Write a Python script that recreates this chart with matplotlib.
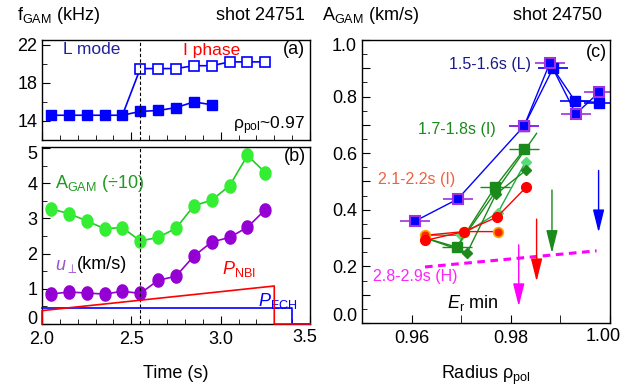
import numpy as np
import matplotlib
matplotlib.use("Agg")
import matplotlib.pyplot as plt
import matplotlib.transforms as mtransforms
from matplotlib.path import Path
from matplotlib.ticker import MultipleLocator, FuncFormatter

plt.rcParams['font.family'] = ['Liberation Sans', 'DejaVu Sans']
plt.rcParams['mathtext.fontset'] = 'custom'
plt.rcParams['mathtext.rm'] = 'Liberation Sans'
plt.rcParams['mathtext.it'] = 'Liberation Sans:italic'
plt.rcParams['mathtext.bf'] = 'Liberation Sans:bold'
plt.rcParams['axes.linewidth'] = 1.0

# (a) GAM frequency, shot 24751
t_low = [2.05, 2.15, 2.25, 2.35, 2.45, 2.55, 2.65, 2.75, 2.85, 2.95]
f_low = [14.6, 14.6, 14.6, 14.6, 14.6, 15.0, 15.1, 15.4, 16.0, 15.7]
t_high = [2.45, 2.55, 2.65, 2.75, 2.85, 2.95, 3.05, 3.15, 3.25]
f_high = [14.6, 19.5, 19.5, 19.5, 19.8, 19.8, 20.2, 20.2, 20.2]
t_lh = 2.55

# (b) GAM amplitude, perpendicular velocity and heating power
t_b = [2.05, 2.15, 2.25, 2.35, 2.45, 2.55, 2.65, 2.75, 2.85, 2.95, 3.05, 3.15, 3.25]
a_gam = [3.27, 3.14, 2.93, 2.71, 2.74, 2.36, 2.46, 2.72, 3.36, 3.52, 3.93, 4.79, 4.30]
u_perp = [0.85, 0.91, 0.88, 0.85, 0.93, 0.87, 1.24, 1.36, 1.93, 2.33, 2.46, 2.75, 3.25]
t_nbi = [2.0, 2.0, 3.3, 3.3, 3.5]
p_nbi = [0.0, 0.38, 1.08, 0.0, 0.0]
t_ech = [2.0, 3.4, 3.4, 3.5]
p_ech = [0.46, 0.46, 0.0, 0.0]

# (c) GAM amplitude profiles, shot 24750
L1_r = [0.9607, 0.9693, 0.9827, 0.9879, 0.9931, 0.9978]
L1_a = [0.36, 0.438, 0.697, 0.92, 0.739, 0.815]
L2_r = [0.9827, 0.9885, 0.9929, 0.9977]
L2_a = [0.697, 0.90, 0.786, 0.779]
I1_sq_r = [0.9628, 0.9691, 0.9768, 0.9827]
I1_sq_a = [0.30, 0.268, 0.480, 0.614]
I1_dm_r = [0.9628, 0.9712, 0.9770, 0.9830]
I1_dm_a = [0.30, 0.249, 0.455, 0.539]
I1_lt_r = [0.9628, 0.9700, 0.9774, 0.9830]
I1_lt_a = [0.31, 0.31, 0.39, 0.570]
I1_ln_r = [0.9691, 0.9852]
I1_ln_a = [0.268, 0.67]
I2_r = [0.9628, 0.9706, 0.9772, 0.9831]
I2_a = [0.292, 0.323, 0.374, 0.48]
I2b_r = [0.9628, 0.9706, 0.9774]
I2b_a = [0.31, 0.323, 0.323]
H_r = [0.9627, 0.9973]
H_a = [0.198, 0.255]
rerr = 0.003

# E_r minimum positions (arrows)
er_r = [0.9816, 0.9852, 0.9883, 0.9977]
er_top = [0.276, 0.367, 0.47, 0.539]
er_tip = [0.059, 0.147, 0.247, 0.32]
er_colors = ['#ff00ff', '#ff0000', '#1a8a1a', '#0000ff']

W, H = 642, 391
fig = plt.figure(figsize=(W / 100, H / 100), dpi=100)
fs = 13

# slightly tall oval marker like the original circles
_ang = np.linspace(0, 2 * np.pi, 41)
oval = Path(np.column_stack([0.83 * np.cos(_ang), np.sin(_ang)]), closed=True)


def box(l, t, r, b):
    return [l / W, 1 - b / H, (r - l) / W, (b - t) / H]


def hide(*vals, fmt='{:.1f}'):
    # formatter that leaves the edge labels out (drawn by hand, shifted inward)
    return FuncFormatter(lambda v, p: '' if any(abs(v - h) < 1e-6 for h in vals) else fmt.format(v))


def ylab(ax, val, txt, dy):
    tr = mtransforms.blended_transform_factory(ax.transAxes, ax.transData)
    tr = tr + mtransforms.ScaledTranslation(-5 / 100, dy / 100, fig.dpi_scale_trans)
    ax.text(0, val, txt, transform=tr, ha='right', va='center', fontsize=fs)


def xlab(ax, val, txt, dx):
    tr = mtransforms.blended_transform_factory(ax.transData, ax.transAxes)
    tr = tr + mtransforms.ScaledTranslation(dx / 100, -5 / 100, fig.dpi_scale_trans)
    ax.text(val, 0, txt, transform=tr, ha='center', va='top', fontsize=fs)


axa = fig.add_axes(box(42, 40, 310, 140))
axb = fig.add_axes(box(42, 147, 310, 324))
axc = fig.add_axes(box(362, 40, 610, 323))

for ax in (axa, axb, axc):
    ax.tick_params(which='both', direction='in', labelsize=fs, top=False, right=False)
    ax.tick_params(which='major', length=6)
    ax.tick_params(which='minor', length=3.5)
    ax.tick_params(axis='x', pad=5)

# ---- panel (a)
blue = '#0000ff'
axa.plot(t_high, f_high, '-s', color=blue, mfc='white', mec=blue, ms=6.5, mew=1.2,
         lw=1.2, markevery=slice(1, None))
axa.plot(t_low, f_low, '-s', color=blue, ms=7, lw=1.2)
axa.axvline(t_lh, color='k', ls=(0, (3, 2)), lw=0.8)
axa.set_xlim(2.0, 3.5)
axa.set_ylim(12, 22.5)
axa.yaxis.set_minor_locator(MultipleLocator(2))
axa.set_yticks([14, 18, 22])
axa.xaxis.set_major_locator(MultipleLocator(0.5))
axa.xaxis.set_minor_locator(MultipleLocator(0.1))
axa.tick_params(labelbottom=False)
axa.text(2.28, 21.45, 'L mode', color='#1f1fa0', fontsize=12.5, ha='center', va='center')
axa.text(2.95, 21.45, 'I phase', color='#ff0000', fontsize=12.5, ha='center', va='center')
axa.text(3.47, 21.45, '(a)', fontsize=13, ha='right', va='center')
axa.text(3.47, 13.5, r'ρ$_{\rm pol}$~0.97', fontsize=12.5, ha='right', va='center')

fig.text(17 / W, 1 - 16 / H, r'f$_{\rm GAM}$ (kHz)', fontsize=fs, ha='left', va='center')
fig.text(305 / W, 1 - 16 / H, 'shot 24751', fontsize=fs, ha='right', va='center')

# ---- panel (b)
axb.plot(t_nbi, p_nbi, color='#ff0000', lw=1.2, clip_on=False, zorder=4)
axb.plot(t_ech, p_ech, color=blue, lw=1.2, clip_on=False, zorder=3)
axb.plot(t_b, a_gam, '-', marker=oval, color='#22cc22', mfc='#33ee33', mec='#33ee33',
         ms=9.5, lw=1.2)
axb.plot(t_b, u_perp, '-', marker=oval, color='#9400d3', mfc='#9400d3', mec='#9400d3',
         ms=9.5, lw=1.2)
axb.axvline(t_lh, color='k', ls=(0, (3, 2)), lw=0.8)
axb.set_xlim(2.0, 3.5)
axb.set_ylim(0, 5.03)
axb.yaxis.set_major_locator(MultipleLocator(1))
axb.yaxis.set_minor_locator(MultipleLocator(0.5))
axb.yaxis.set_major_formatter(hide(0, 5, fmt='{:.0f}'))
ylab(axb, 0, '0', 4)
ylab(axb, 5, '5', -6)
axb.xaxis.set_major_locator(MultipleLocator(0.5))
axb.xaxis.set_minor_locator(MultipleLocator(0.1))
axb.xaxis.set_major_formatter(hide(3.5))
xlab(axb, 3.5, '3.5', -5)
axb.set_xlabel('Time (s)', fontsize=fs, labelpad=12)
axb.text(2.07, 4.0, r'A$_{\rm GAM}$ (÷10)', color='#229922', fontsize=13, ha='left', va='center')
ut = axb.text(2.07, 1.62, r'$u_{\perp}$', color='#9955cc', fontsize=13, ha='left', va='center')
axb.annotate('(km/s)', xy=(1, 0.62), xycoords=ut, fontsize=13, ha='left', va='center')
axb.text(3.10, 1.55, r'$P_{\rm NBI}$', color='#ff0000', fontsize=13, ha='center', va='center')
axb.text(3.32, 0.64, r'$P_{\rm ECH}$', color=blue, fontsize=13, ha='center', va='center')
axb.text(3.48, 4.75, '(b)', fontsize=13, ha='right', va='center')

# ---- panel (c)
purple = '#a030e0'
dgreen = '#1a8a1a'
axc.plot(I1_ln_r, I1_ln_a, '-', color=dgreen, lw=1.0)
axc.plot(I1_lt_r, I1_lt_a, '-D', color='#22aa44', mfc='#55dd77', mec='#55dd77', ms=5, lw=1.0,
         markevery=slice(1, None))
axc.plot(I1_dm_r, I1_dm_a, '-D', color=dgreen, mfc=dgreen, mec=dgreen, ms=5, lw=1.0,
         markevery=slice(1, None))
axc.errorbar(I1_sq_r[1:], I1_sq_a[1:], xerr=rerr, fmt='none', ecolor=dgreen,
             elinewidth=1.0, capsize=0)
axc.plot(I1_sq_r, I1_sq_a, '-s', color=dgreen, ms=7, lw=1.0, markevery=slice(1, None))
axc.plot(I2b_r, I2b_a, '-o', color='#ff0000', mfc='#ff2200', mec='#ffa500', ms=7, mew=1.2, lw=1.0)
axc.plot(I2_r, I2_a, '-o', color='#ff0000', mfc='#ff0000', mec='#ff0000', ms=7, lw=1.0)
axc.errorbar(L2_r, L2_a, xerr=rerr, fmt='-s', color=blue, mfc=blue, mec=blue, ms=7,
             lw=1.0, elinewidth=1.2, capsize=0)
axc.errorbar(L1_r, L1_a, xerr=rerr, fmt='-s', color=blue, mfc=blue, mec=purple, mew=1.5,
             ms=7, lw=1.0, ecolor=purple, elinewidth=1.2, capsize=0)
axc.plot(H_r, H_a, color='#ff00ff', lw=2.2, ls=(0, (2.5, 1.8)))
for r, y0, y1, c in zip(er_r, er_top, er_tip, er_colors):
    axc.annotate('', xy=(r, y1), xytext=(r, y0),
                 arrowprops=dict(arrowstyle='-|>,head_length=1.4,head_width=0.35',
                                 color=c, lw=1.0, mutation_scale=10, shrinkA=0, shrinkB=0))
axc.set_xlim(0.95, 1.00)
axc.set_ylim(0, 1.0)
axc.xaxis.set_major_locator(MultipleLocator(0.02))
axc.xaxis.set_minor_locator(MultipleLocator(0.01))
axc.xaxis.set_major_formatter(hide(1.0, fmt='{:.2f}'))
xlab(axc, 1.0, '1.00', -7)
axc.tick_params(axis='x', which='minor', length=6)
axc.yaxis.set_major_locator(MultipleLocator(0.1))
axc.yaxis.set_minor_locator(MultipleLocator(0.05))
axc.yaxis.set_major_formatter(
    FuncFormatter(lambda v, p: f'{v:.1f}' if round(v * 10) % 2 == 0 and 0.05 < v < 0.95 else ''))
ylab(axc, 0.0, '0.0', 6.5)
ylab(axc, 1.0, '1.0', -6.5)
axc.set_xlabel(r'Radius ρ$_{\rm pol}$', fontsize=fs, labelpad=12)
axc.text(0.9841, 0.912, '1.5-1.6s (L)', color='#1a1a8a', fontsize=11.5, ha='right', va='center')
axc.text(0.9770, 0.682, '1.7-1.8s (I)', color=dgreen, fontsize=11.5, ha='right', va='center')
axc.text(0.9533, 0.506, '2.1-2.2s (I)', color='#f06040', fontsize=11.5, ha='left', va='center')
axc.text(0.9522, 0.165, '2.8-2.9s (H)', color='#ff22ff', fontsize=11.5, ha='left', va='center')
axc.text(0.9672, 0.07, r'$E_{\rm r}$ min', fontsize=13, ha='left', va='center')
axc.text(0.9994, 0.955, '(c)', fontsize=13, ha='right', va='center')

fig.text(322 / W, 1 - 16 / H, r'A$_{\rm GAM}$ (km/s)', fontsize=fs, ha='left', va='center')
fig.text(602 / W, 1 - 16 / H, 'shot 24750', fontsize=fs, ha='right', va='center')

fig.savefig('out.png', dpi=100)
